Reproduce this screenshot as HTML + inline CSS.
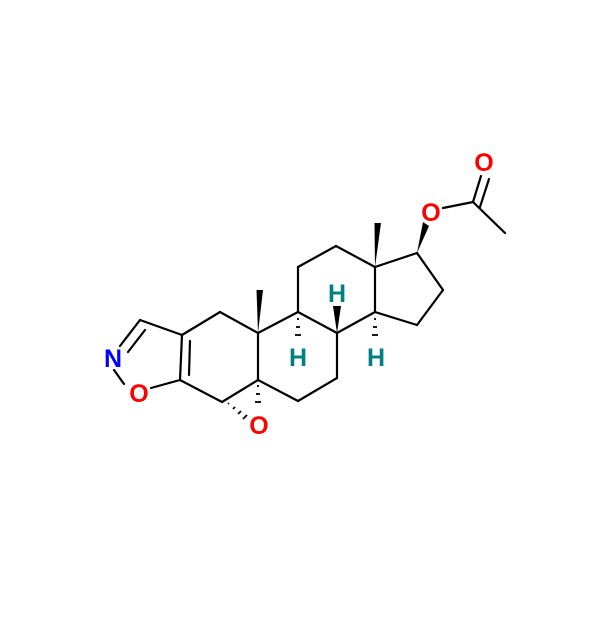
<!DOCTYPE html>
<html><head><style>body{margin:0;background:#fff}svg{display:block}</style></head>
<body>
<svg width="600" height="618" viewBox="0 0 600 618" xmlns="http://www.w3.org/2000/svg">
<g stroke="#000" stroke-width="2.2" fill="none" stroke-linecap="round">
<!-- isoxazole -->
<line x1="140" y1="320" x2="120" y2="346"/>
<line x1="145" y1="330" x2="128" y2="352"/>
<line x1="140" y1="320" x2="182" y2="335"/>
<line x1="114" y1="370" x2="124" y2="384"/>
<line x1="151" y1="388" x2="180" y2="380"/>
<line x1="182" y1="335" x2="180" y2="380"/>
<line x1="190" y1="341" x2="189" y2="375"/>
<!-- ring A -->
<line x1="182" y1="335" x2="220" y2="312"/>
<line x1="220" y1="312" x2="258" y2="333"/>
<line x1="258" y1="333" x2="258" y2="380"/>
<line x1="258" y1="380" x2="222" y2="402"/>
<line x1="222" y1="402" x2="180" y2="380"/>
<!-- ring B -->
<line x1="258" y1="333" x2="298" y2="312"/>
<line x1="298" y1="312" x2="337" y2="333"/>
<line x1="337" y1="333" x2="337" y2="378"/>
<line x1="337" y1="378" x2="298" y2="401"/>
<line x1="298" y1="401" x2="258" y2="380"/>
<!-- ring C -->
<line x1="298" y1="312" x2="298" y2="267"/>
<line x1="298" y1="267" x2="336" y2="246"/>
<line x1="336" y1="246" x2="375" y2="267"/>
<line x1="375" y1="267" x2="375" y2="312"/>
<line x1="375" y1="312" x2="337" y2="333"/>
<!-- ring D -->
<line x1="375" y1="267" x2="417" y2="253"/>
<line x1="417" y1="253" x2="443" y2="290"/>
<line x1="443" y1="290" x2="417" y2="325"/>
<line x1="417" y1="325" x2="375" y2="312"/>
<!-- ester -->
<line x1="443" y1="208" x2="473" y2="202"/>
<line x1="473" y1="202" x2="505" y2="233"/>
<line x1="473" y1="202" x2="481" y2="176"/>
<line x1="480" y1="207" x2="489" y2="179"/>
</g>
<g fill="#000">
<polygon points="258,333 256.5,290 263,290"/>
<polygon points="375,267 374.5,223 381,223"/>
<polygon points="417,253 423,222 429,226"/>
<polygon points="337,333 333,306 341,306"/>
</g>
<g stroke="#000" stroke-width="1.8">
<line x1="297" y1="319" x2="299" y2="319"/>
<line x1="296" y1="327" x2="300" y2="327"/>
<line x1="295" y1="335" x2="301" y2="335"/>
<line x1="374" y1="319" x2="376" y2="319"/>
<line x1="373" y1="327" x2="377" y2="327"/>
<line x1="372" y1="335" x2="378" y2="335"/>
<line x1="257" y1="386" x2="259" y2="386"/>
<line x1="256" y1="394" x2="260" y2="394"/>
<line x1="255" y1="402" x2="261" y2="402"/>
<line x1="228" y1="404" x2="229" y2="403"/>
<line x1="233" y1="409" x2="235" y2="407"/>
<line x1="238" y1="414" x2="241" y2="411"/>
<line x1="243" y1="419" x2="247" y2="415"/>
</g>
<g font-family="Liberation Sans, sans-serif" font-weight="bold" font-size="25" text-anchor="middle">
<text x="113" y="367" fill="#0000ff">N</text>
<text x="139" y="402" fill="#ff0000">O</text>
<text x="259" y="434" fill="#ff0000">O</text>
<text x="431" y="221" fill="#ff0000">O</text>
<text x="484" y="171" fill="#ff0000">O</text>
<text x="298" y="366" fill="#008080">H</text>
<text x="337" y="302" fill="#008080">H</text>
<text x="376" y="366" fill="#008080">H</text>
</g>
</svg>
</body></html>
